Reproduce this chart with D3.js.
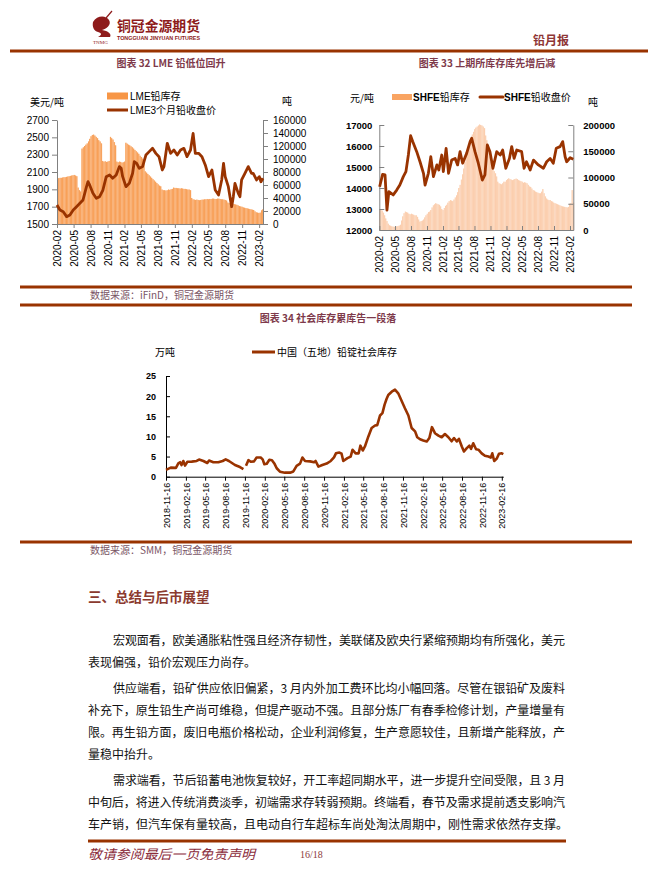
<!DOCTYPE html>
<html>
<head>
<meta charset="utf-8">
<script src="https://cdn.jsdelivr.net/npm/d3@7"></script>
<style>
  body { margin: 0; background: #fff; }
  svg { display: block; }
</style>
</head>
<body>
<script>
// ---------- data ----------
// chart 32: LME lead
var lmeXTicks = ["2020-02","2020-05","2020-08","2020-11","2021-02","2021-05","2021-08","2021-11","2022-02","2022-05","2022-08","2022-11","2023-02"];
var lmeLeftTicks = [1500, 1700, 1900, 2100, 2300, 2500, 2700];
var lmeRightTicks = [0, 20000, 40000, 60000, 80000, 100000, 120000, 140000, 160000];
var lmeStockStart = "2020-02-01"; // weekly values from here
var lmeStock = [70500,70500,71000,71000,71500,72000,72000,72500,73000,73500,74000,74500,75000,75500,74500,73500,
  56000,52000,50000,
  116000,118000,120000,122000,124000,127000,131000,135000,137000,137500,136000,134000,132000,129000,127000,124000,
  97000,96000,96500,95500,96000,97000,
  134000,132000,130000,126000,121000,
  96000,95000,96000,95500,94500,95000,96000,
  125000,123500,122000,121000,119500,118000,116000,114000,112000,110000,108000,105000,103000,100500,98500,
  81000,79000,77000,75000,73000,71000,69000,67000,65000,63000,61000,59000,58000,
  53000,52000,52000,51500,52000,53000,52500,53500,54000,
  56000,55500,55500,55000,55000,54500,55000,54500,54000,54000,53500,53000,53000,52000,
  40000,
  38000,37500,37000,37500,37000,36500,37000,37500,37500,38000,38000,38500,38000,38500,38500,39000,39000,38500,38500,39000,39000,38500,38000,38000,37500,37000,36000,
  33000,32000,31500,31500,31000,30500,30000,29500,28500,27500,27000,26500,
  25500,25000,24500,24000,23500,23000,22500,22000,21500,
  19500,18000,17500,17000,17500,21000,22500];
var lmePriceDates = ["2020-02-01","2020-02-17","2020-03-06","2020-03-24","2020-04-11","2020-04-29","2020-05-17","2020-06-04","2020-06-21","2020-07-10",
  "2020-07-18","2020-07-27","2020-08-14","2020-09-01","2020-09-19","2020-10-07","2020-10-25","2020-11-12","2020-11-29","2020-12-18",
  "2021-01-04","2021-01-14","2021-01-22","2021-02-09","2021-02-27","2021-03-17","2021-03-26","2021-04-08","2021-04-22","2021-05-10",
  "2021-05-28","2021-06-15","2021-07-03","2021-07-21","2021-08-07","2021-08-25","2021-09-03","2021-09-21","2021-10-09","2021-10-27",
  "2021-11-14","2021-12-02","2021-12-20","2022-01-06","2022-01-25","2022-02-08","2022-02-20","2022-03-10","2022-03-28","2022-04-15",
  "2022-05-03","2022-05-21","2022-06-08","2022-06-26","2022-07-13","2022-07-23","2022-08-01","2022-08-18","2022-09-05","2022-09-14",
  "2022-09-23","2022-10-11","2022-10-20","2022-10-29","2022-11-16","2022-12-04","2022-12-22","2022-12-31","2023-01-18","2023-02-02",
  "2023-02-11","2023-02-22"];
var lmePrice = [1719,1662,1642,1585,1604,1662,1700,1739,1777,1931,
  1988,1950,1854,1796,1815,1892,2046,2065,2027,2065,
  2162,2142,2046,1931,1969,2085,2219,2200,2142,2162,
  2296,2335,2373,2315,2277,2123,2162,2431,2315,2354,
  2296,2354,2373,2277,2354,2546,2315,2315,2277,2181,
  2046,2123,1892,1835,2008,2200,2046,1931,1700,1815,
  1969,1854,1815,2008,2085,2162,2085,2085,2008,2046,
  1988,2027];

// chart 33: SHFE lead
var shfeXTicks = lmeXTicks;
var shfeLeftTicks = [12000, 13000, 14000, 15000, 16000, 17000];
var shfeRightTicks = [0, 50000, 100000, 150000, 200000];
var shfeStockStart = "2020-02-01"; // weekly values from here
var shfeStock = [38000,38000,37000,33000,28000,22000,17000,12000,9000,8000,7000,6500,6000,6500,7000,7500,8500,10000,18000,26000,
  32000,35000,34000,33000,31000,30000,31000,30000,29000,28000,28000,25000,20000,16000,17000,18000,20000,24000,28000,31000,
  34000,35000,38000,43000,47000,49000,51000,50000,49000,48000,45000,40000,38000,42000,46000,48000,52000,55000,57000,56000,
  55000,58000,62000,66000,72000,80000,86000,96000,106000,117000,130000,142000,150000,160000,168000,175000,182000,187000,192000,195000,
  197000,199000,201000,200000,199000,197000,194000,180000,171000,152000,140000,130000,124000,118000,112000,108000,102000,92000,89000,88000,
  87000,89000,92000,92000,95000,97000,98500,97000,96000,95000,96000,97000,98000,97000,95000,94000,93000,92000,90000,91000,
  90000,89000,86000,83000,82000,79000,76000,75000,73000,72000,71000,70000,70000,73000,78000,70000,64000,60000,58000,57000,
  57000,55000,54000,52000,51000,50000,49000,48000,47000,46000,45000,44500,44000,43500,43000,44000,50000,51000,76000,52000];
var shfePriceDates = ["2020-02-03","2020-02-20","2020-03-05","2020-03-16","2020-03-27","2020-04-21","2020-05-11","2020-05-29","2020-06-18","2020-07-03",
  "2020-07-17","2020-07-30","2020-08-11","2020-09-03","2020-09-22","2020-10-12","2020-10-21","2020-11-09","2020-11-23","2020-12-08",
  "2020-12-28","2021-01-08","2021-01-25","2021-02-03","2021-02-19","2021-03-05","2021-03-23","2021-04-12","2021-04-26","2021-05-10",
  "2021-05-25","2021-06-17","2021-07-07","2021-07-16","2021-08-04","2021-08-23","2021-09-15","2021-09-30","2021-10-14","2021-10-29",
  "2021-11-15","2021-12-07","2021-12-27","2022-01-10","2022-01-28","2022-02-18","2022-03-03","2022-03-17","2022-04-01","2022-04-29",
  "2022-05-13","2022-05-27","2022-06-17","2022-07-06","2022-08-03","2022-09-01","2022-09-20","2022-10-10","2022-10-28","2022-11-14",
  "2022-12-06","2022-12-21","2023-01-04","2023-01-13","2023-02-02","2023-02-20"];
var shfePrice = [14060,14650,14620,12950,13830,13670,13900,14140,14540,14780,
  15570,16490,16210,15730,15250,14700,14140,14700,15490,14540,
  15100,14860,15570,14780,15890,14700,15330,15410,15100,15730,
  15180,15650,16210,16370,15730,15180,14380,14620,16050,15730,
  14940,15730,15570,15810,14940,15410,15970,15410,15810,15730,
  14940,15250,14860,15330,15100,14940,15250,15410,15180,15890,
  15970,16210,15490,15250,15440,15370];

// chart 34: social inventory (万吨)
var socXTicks = ["2018-11-16","2019-02-16","2019-05-16","2019-08-16","2019-11-16","2020-02-16","2020-05-16","2020-08-16","2020-11-16",
  "2021-02-16","2021-05-16","2021-08-16","2021-11-16","2022-02-16","2022-05-16","2022-08-16","2022-11-16","2023-02-16"];
var socYTicks = [0, 5, 10, 15, 20, 25];
var socDates = ["2018-11-16","2018-12-08","2019-01-01","2019-01-12","2019-01-20","2019-01-27","2019-02-04","2019-02-12","2019-02-23","2019-03-15",
  "2019-04-07","2019-04-18","2019-05-08","2019-05-26","2019-06-03","2019-06-23","2019-07-16","2019-08-05","2019-08-19","2019-09-03",
  "2019-10-01","2019-10-24","2019-11-09","2019-11-15","2019-11-21","2019-12-02","2019-12-13","2019-12-28","2020-01-09","2020-01-28",
  "2020-02-06","2020-02-14","2020-02-25","2020-03-08","2020-03-20","2020-03-31","2020-04-11","2020-04-26","2020-05-19","2020-06-12",
  "2020-06-27","2020-07-12","2020-07-28","2020-08-08","2020-08-20","2020-09-12","2020-10-01","2020-10-08","2020-10-21","2020-11-08",
  "2020-11-28","2020-12-17","2021-01-01","2021-01-10","2021-01-26","2021-02-05","2021-02-13","2021-03-04","2021-03-19","2021-03-28",
  "2021-04-11","2021-04-25","2021-05-03","2021-05-14","2021-05-24","2021-06-09","2021-06-24","2021-07-10","2021-07-20","2021-08-02",
  "2021-08-13","2021-08-23","2021-09-01","2021-09-09","2021-09-25","2021-10-10","2021-10-25","2021-11-10","2021-11-25","2021-12-11",
  "2021-12-26","2022-01-11","2022-01-21","2022-02-03","2022-02-18","2022-03-06","2022-03-18","2022-03-30","2022-04-13","2022-04-29",
  "2022-05-14","2022-05-29","2022-06-14","2022-06-29","2022-07-10","2022-07-23","2022-08-02","2022-08-15","2022-08-25","2022-09-07",
  "2022-09-19","2022-09-27","2022-10-07","2022-10-20","2022-10-31","2022-11-15","2022-11-30","2022-12-16","2022-12-27","2023-01-03",
  "2023-01-12","2023-01-24","2023-02-03","2023-02-16","2023-02-23"];
var socValues = [1.7,2.25,2.2,3.3,3.6,2.9,3.9,2.75,3.7,3.75,
  3.9,4.25,3.9,3.4,4.0,3.6,3.6,3.9,4.3,3.9,
  2.9,2.4,1.9,null,2.7,4.1,3.7,3.8,4.75,4.75,
  4.3,3.1,3.2,4.2,4.1,3.3,2.1,1.25,1.0,1.0,
  1.3,2.7,3.25,4.75,3.9,3.8,3.6,3.9,2.5,2.9,
  3.25,3.9,4.8,5.8,6.0,5.7,3.9,4.6,5.0,6.7,
  5.8,5.8,7.7,6.5,7.5,10.0,12.1,12.7,12.8,15.2,
  15.8,17.9,19.3,20.3,21.1,21.6,20.7,18.8,17.0,15.2,
  12.1,11.25,9.8,9.3,9.0,8.75,9.6,12.3,10.8,10.2,
  9.8,10.6,9.8,8.8,9.6,8.75,9.4,7.5,6.25,7.1,
  7.7,6.9,8.3,6.8,6.7,5.8,5.2,5.0,4.75,5.8,
  3.9,4.5,5.7,5.8,5.6];

// body text
var paragraphs = [
  ["宏观面看，欧美通胀粘性强且经济存韧性，美联储及欧央行紧缩预期均有所强化，美元",
   "表现偏强，铅价宏观压力尚存。"],
  ["供应端看，铅矿供应依旧偏紧，3 月内外加工费环比均小幅回落。尽管在银铅矿及废料",
   "补充下，原生铅生产尚可维稳，但提产驱动不强。且部分炼厂有春季检修计划，产量增量有",
   "限。再生铅方面，废旧电瓶价格松动，企业利润修复，生产意愿较佳，且新增产能释放，产",
   "量稳中抬升。"],
  ["需求端看，节后铅蓄电池恢复较好，开工率超同期水平，进一步提升空间受限，且 3 月",
   "中旬后，将进入传统消费淡季，初端需求存转弱预期。终端看，春节及需求提前透支影响汽",
   "车产销，但汽车保有量较高，且电动自行车超标车尚处淘汰周期中，刚性需求依然存支撑。"]
];

// ---------- drawing ----------
var parse = d3.timeParse("%Y-%m-%d"),
  parseM = d3.timeParse("%Y-%m");
var BROWN = "#993300",
  CJK = "'Noto Sans CJK SC', sans-serif",
  SANS = "'Liberation Sans', 'Noto Sans CJK SC', sans-serif";
var plain = d3.format("d");

var svg = d3.select("body").append("svg")
  .attr("width", 652)
  .attr("height", 870)
  .style("font-family", SANS);

function rule(y, xa, xb) {
  svg.append("rect").attr("x", xa).attr("y", y - 1.5)
    .attr("width", xb - xa).attr("height", 3).attr("fill", BROWN);
}

function label(x, y, txt, size, opts) {
  opts = opts || {};
  var t = svg.append("text")
    .attr("x", x).attr("y", y).attr("dy", "0.36em")
    .style("font-size", size + "px")
    .style("font-family", opts.family || CJK)
    .attr("fill", opts.fill || "#000")
    .attr("text-anchor", opts.anchor || "start")
    .text(txt);
  if (opts.weight) t.style("font-weight", opts.weight);
  if (opts.italic) t.style("font-style", "italic");
  if (opts.len) t.attr("textLength", opts.len).attr("lengthAdjust", "spacingAndGlyphs");
  return t;
}

function styleAxis(g, color, size, weight) {
  g.attr("font-family", null).attr("font-size", null);
  g.select(".domain").attr("stroke", color);
  g.selectAll(".tick line").attr("stroke", color);
  g.selectAll(".tick text").attr("fill", "#000")
    .style("font-family", SANS)
    .style("font-size", size + "px")
    .style("font-weight", weight);
}

function rotLabels(g, gap) {
  g.selectAll(".tick text")
    .attr("transform", "rotate(-90)")
    .attr("text-anchor", "end")
    .attr("x", -gap).attr("y", 0).attr("dy", "0.35em");
}

// header
var logo = svg.append("g").attr("fill", "#8E1B1B");
logo.append("path")
  .attr("d", "M93,22 C97,15 106,15 109,20 C112,25 106,29 102,30 C108,31 112,34 110,37 L98,37 C102,35 102,33 98,32 C94,31 92,27 93,22 Z");
logo.append("path").attr("d", "M106,18 L112,11").attr("stroke", "#8E1B1B").attr("stroke-width", 1.2);
label(93, 42, "TNMG", 4.5, { family: "'Liberation Serif', serif", fill: "#8E1B1B", len: 15 });
label(117, 26, "铜冠金源期货", 13.5, { fill: "#8E1B1B", weight: "bold", len: 83 });
label(117, 38, "TONGGUAN JINYUAN FUTURES", 5, { family: SANS, fill: "#8E1B1B", weight: "bold", len: 83 });
label(533, 41, "铅月报", 12, { fill: "#8E3636", weight: "bold" });
rule(51, 10, 648);

// ===== chart 32 =====
var TITLE = "#7E3A4B";
label(171, 63, "图表 32 LME 铅低位回升", 10, { anchor: "middle", fill: TITLE, weight: "bold" });
label(30, 102, "美元/吨", 10);
label(282, 101, "吨", 10);

var x1 = d3.scaleTime().domain([parse("2020-02-01"), parse("2023-02-22")]).range([57, 263]);
var y1 = d3.scaleLinear().domain([1500, 2700]).range([224, 120]);
var y1s = d3.scaleLinear().domain([0, 160000]).range([224, 120]);

var lmeStockData = lmeStock.map(function (v, i) {
  return { d: d3.timeDay.offset(parse(lmeStockStart), 7 * i), v: v };
});
var step1 = x1(lmeStockData[1].d) - x1(lmeStockData[0].d);

var bars1 = svg.append("g");
bars1.selectAll("rect.lt")
  .data(lmeStockData)
  .enter().append("rect")
  .attr("x", function (d) { return x1(d.d); })
  .attr("y", function (d) { return y1s(d.v); })
  .attr("width", step1)
  .attr("height", function (d) { return 224 - y1s(d.v); })
  .attr("fill", "#FAC296");
bars1.selectAll("rect.dk")
  .data(lmeStockData)
  .enter().append("rect")
  .attr("x", function (d) { return x1(d.d); })
  .attr("y", function (d) { return y1s(d.v); })
  .attr("width", step1 * 0.6)
  .attr("height", function (d) { return 224 - y1s(d.v); })
  .attr("fill", "#F79646");

var gx1 = svg.append("g").attr("transform", "translate(0,224)")
  .call(d3.axisBottom(x1).tickValues(lmeXTicks.map(function (s) { return parseM(s); }))
    .tickFormat(d3.timeFormat("%Y-%m")).tickSize(4).tickSizeOuter(0));
styleAxis(gx1, "#808080", 10, "normal");
rotLabels(gx1, 6);

var gy1 = svg.append("g").attr("transform", "translate(57,0)")
  .call(d3.axisLeft(y1).tickValues(lmeLeftTicks).tickFormat(plain).tickSize(5).tickPadding(3).tickSizeOuter(0));
styleAxis(gy1, "#808080", 10, "normal");

var gy1r = svg.append("g").attr("transform", "translate(263,0)")
  .call(d3.axisRight(y1s).tickValues(lmeRightTicks).tickFormat(plain).tickSize(5).tickPadding(5).tickSizeOuter(0));
styleAxis(gy1r, "#808080", 10, "normal");

var lmePriceData = lmePriceDates.map(function (s, i) { return { d: parse(s), v: lmePrice[i] }; });
svg.append("path")
  .datum(lmePriceData)
  .attr("fill", "none")
  .attr("stroke", BROWN)
  .attr("stroke-width", 2.8)
  .attr("stroke-linejoin", "round")
  .attr("d", d3.line().x(function (d) { return x1(d.d); }).y(function (d) { return y1(d.v); }));

svg.append("rect").attr("x", 107).attr("y", 92.5).attr("width", 21).attr("height", 7).attr("fill", "#F79646");
label(130, 96, "LME铅库存", 10, { family: SANS });
svg.append("line").attr("x1", 107).attr("x2", 128).attr("y1", 110).attr("y2", 110)
  .attr("stroke", BROWN).attr("stroke-width", 3);
label(130, 110, "LME3个月铅收盘价", 10, { family: SANS });

// ===== chart 33 =====
label(487, 63, "图表 33 上期所库存库先增后减", 10, { anchor: "middle", fill: TITLE, weight: "bold" });
label(350, 98, "元/吨", 10);
label(588, 102, "吨", 10);

var x2 = d3.scaleTime().domain([parse("2020-02-01"), parse("2023-02-20")]).range([379.3, 573.3]);
var y2 = d3.scaleLinear().domain([12000, 17000]).range([230, 125]);
var y2s = d3.scaleLinear().domain([0, 200000]).range([230, 125]);

var shfeStockData = shfeStock.map(function (v, i) {
  return { d: d3.timeDay.offset(parse(shfeStockStart), 7 * i), v: v };
});
var step2 = x2(shfeStockData[1].d) - x2(shfeStockData[0].d);

var bars2 = svg.append("g");
bars2.selectAll("rect.lt")
  .data(shfeStockData)
  .enter().append("rect")
  .attr("x", function (d) { return x2(d.d); })
  .attr("y", function (d) { return y2s(d.v); })
  .attr("width", step2)
  .attr("height", function (d) { return 230 - y2s(d.v); })
  .attr("fill", "#FDE1CD");
bars2.selectAll("rect.dk")
  .data(shfeStockData)
  .enter().append("rect")
  .attr("x", function (d) { return x2(d.d); })
  .attr("y", function (d) { return y2s(d.v); })
  .attr("width", step2 * 0.45)
  .attr("height", function (d) { return 230 - y2s(d.v); })
  .attr("fill", "#F9BE94");

var gx2 = svg.append("g").attr("transform", "translate(0,230)")
  .call(d3.axisBottom(x2).tickValues(shfeXTicks.map(function (s) { return parseM(s); }))
    .tickFormat(d3.timeFormat("%Y-%m")).tickSize(-4).tickSizeOuter(0));
styleAxis(gx2, "#808080", 10, "normal");
rotLabels(gx2, 6);

var gy2 = svg.append("g").attr("transform", "translate(379.3,0)")
  .call(d3.axisLeft(y2).tickValues(shfeLeftTicks).tickFormat(plain).tickSize(-5).tickPadding(7).tickSizeOuter(0));
styleAxis(gy2, "#808080", 9.5, "bold");

var gy2r = svg.append("g").attr("transform", "translate(573.3,0)")
  .call(d3.axisRight(y2s).tickValues(shfeRightTicks).tickFormat(plain).tickSize(-5).tickPadding(10).tickSizeOuter(0));
styleAxis(gy2r, "#808080", 9.5, "bold");

var shfePriceData = shfePriceDates.map(function (s, i) { return { d: parse(s), v: shfePrice[i] }; });
svg.append("path")
  .datum(shfePriceData)
  .attr("fill", "none")
  .attr("stroke", BROWN)
  .attr("stroke-width", 2.8)
  .attr("stroke-linejoin", "round")
  .attr("d", d3.line().x(function (d) { return x2(d.d); }).y(function (d) { return y2(d.v); }));

svg.append("rect").attr("x", 392).attr("y", 94).attr("width", 20).attr("height", 6).attr("fill", "#F9A462");
var lg2a = label(413, 97, "", 10, { family: SANS });
lg2a.append("tspan").style("font-weight", "bold").text("SHFE");
lg2a.append("tspan").style("font-family", CJK).text("铅库存");
svg.append("line").attr("x1", 480).attr("x2", 503).attr("y1", 97).attr("y2", 97)
  .attr("stroke", BROWN).attr("stroke-width", 3).attr("stroke-linecap", "round");
var lg2b = label(504, 97, "", 10, { family: SANS });
lg2b.append("tspan").style("font-weight", "bold").text("SHFE");
lg2b.append("tspan").style("font-family", CJK).text("铅收盘价");

// source + rules
rule(287, 20, 632);
var SRC = "#7A5565";
label(90, 295, "数据来源：iFinD，铜冠金源期货", 10, { fill: SRC });
rule(305, 20, 632);

// ===== chart 34 =====
label(328, 318, "图表 34 社会库存累库告一段落", 10, { anchor: "middle", fill: TITLE, weight: "bold" });
label(155, 352, "万吨", 10);
svg.append("line").attr("x1", 252).attr("x2", 275).attr("y1", 352).attr("y2", 352)
  .attr("stroke", BROWN).attr("stroke-width", 3);
label(277, 352, "中国（五地）铅锭社会库存", 10);

var x3 = d3.scaleTime().domain([parse("2018-11-16"), parse("2023-02-23")]).range([166, 503.3]);
var y3 = d3.scaleLinear().domain([0, 25]).range([476.7, 376]);

var gx3 = svg.append("g").attr("transform", "translate(0,476.7)")
  .call(d3.axisBottom(x3).tickValues(socXTicks.map(function (s) { return parse(s); }))
    .tickFormat(d3.timeFormat("%Y-%m-%d")).tickSize(4).tickSizeOuter(0));
styleAxis(gx3, "#000", 9, "normal");
rotLabels(gx3, 6);

var gy3 = svg.append("g").attr("transform", "translate(166,0)")
  .call(d3.axisLeft(y3).tickValues(socYTicks).tickFormat(plain).tickSize(-4).tickPadding(10).tickSizeOuter(0));
styleAxis(gy3, "#000", 9, "bold");

var socData = socDates.map(function (s, i) { return { d: parse(s), v: socValues[i] }; });
svg.append("path")
  .datum(socData)
  .attr("fill", "none")
  .attr("stroke", BROWN)
  .attr("stroke-width", 2.6)
  .attr("stroke-linejoin", "round")
  .attr("d", d3.line()
    .defined(function (d) { return d.v != null; })
    .x(function (d) { return x3(d.d); })
    .y(function (d) { return y3(d.v); }));

rule(542, 20, 632);
label(90, 550, "数据来源：SMM，铜冠金源期货", 10, { fill: SRC });

// ===== text section =====
label(88, 597, "三、总结与后市展望", 13.5, { fill: "#8B3A2F", weight: "bold" });

var lineY = 641, LH = 22, PGAP = 26, LEFT = 88, RIGHT = 565, INDENT = 25;
paragraphs.forEach(function (lines, pi) {
  if (pi > 0) lineY += PGAP - LH;
  lines.forEach(function (txt, li) {
    var x0 = li === 0 ? LEFT + INDENT : LEFT;
    var last = li === lines.length - 1 && lines.length > 1;
    var t = svg.append("text")
      .attr("x", x0).attr("y", lineY).attr("dy", "0.36em")
      .style("font-family", CJK).style("font-size", "12px")
      .attr("fill", "#111")
      .text(txt);
    if (!last) t.attr("textLength", RIGHT - x0).attr("lengthAdjust", "spacing");
    lineY += LH;
  });
});

rule(841, 88, 566);
label(88, 854, "敬请参阅最后一页免责声明", 13, { fill: "#8B2D3C", italic: true, len: 167 });
label(300, 854, "16/18", 10, { family: "'Liberation Serif', serif", fill: "#8B3A3A" });
</script>
</body>
</html>
